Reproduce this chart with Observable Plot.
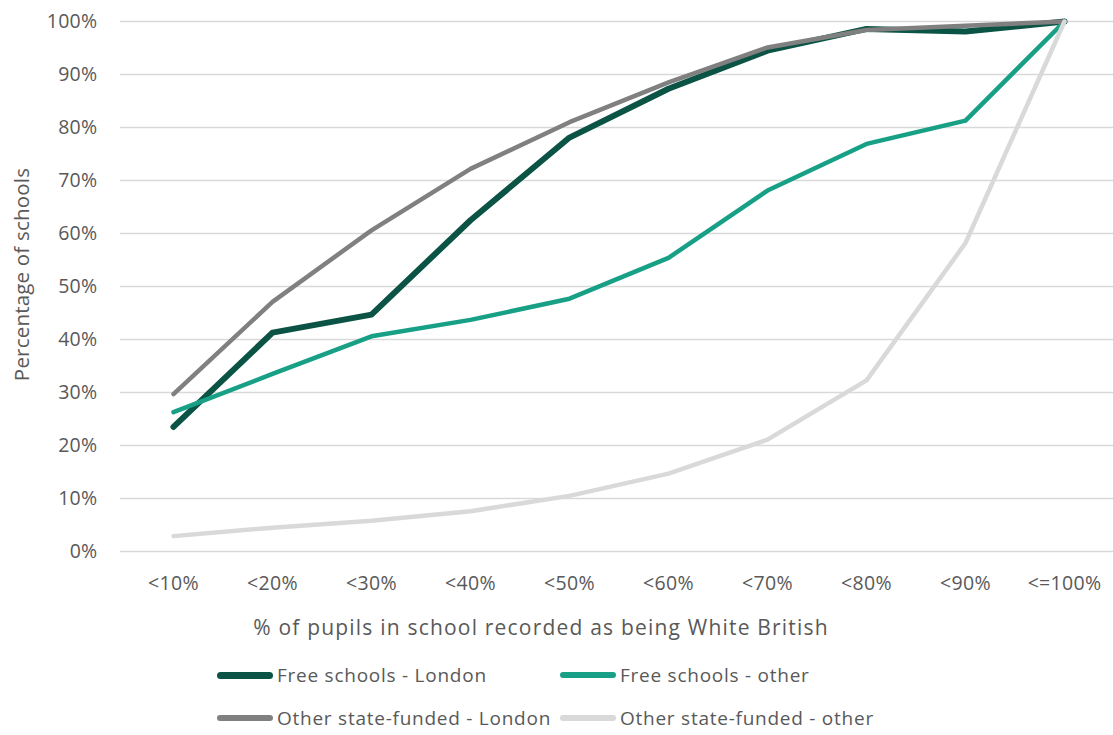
<!DOCTYPE html>
<html>
<head>
<meta charset="utf-8">
<script src="https://cdn.jsdelivr.net/npm/d3@7"></script>
<script src="https://cdn.jsdelivr.net/npm/@observablehq/plot@0.6"></script>
<style>
  html, body { margin: 0; padding: 0; background: #fff; }
  body { width: 1113px; height: 735px; overflow: hidden; font-family: "Open Sans", sans-serif; color: #595959; }
  #chart svg { display: block; }
  #legend { position: absolute; left: 0; top: 0; width: 1113px; }
  .item { position: absolute; display: flex; align-items: center; font-size: 19px; letter-spacing: 0.75px; color: #595959; white-space: nowrap; transform: translateY(-50%); }
  .sw { width: 56px; border-radius: 4px; margin-right: 4px; }
</style>
</head>
<body>
<div id="chart"></div>
<div id="legend"></div>
<script>
const categories = ["<10%", "<20%", "<30%", "<40%", "<50%", "<60%", "<70%", "<80%", "<90%", "<=100%"];
const freeLondon  = [23.5, 41.3, 44.7, 62.5, 78.1, 87.3, 94.5, 98.6, 98.1, 100];
const freeOther   = [26.3, 33.5, 40.6, 43.7, 47.7, 55.4, 68.1, 76.9, 81.3, 100];
const otherLondon = [29.7, 47.1, 60.6, 72.2, 81.0, 88.5, 95.1, 98.4, 99.2, 100];
const otherOther  = [2.9, 4.5, 5.8, 7.6, 10.5, 14.7, 21.1, 32.3, 58.2, 100];
const yTicks = [0, 10, 20, 30, 40, 50, 60, 70, 80, 90, 100];
const xTitle = "% of pupils in school recorded as being White British";
const yTitle = "Percentage of schools";
const seriesNames = ["Free schools - London", "Free schools - other", "Other state-funded - London", "Other state-funded - other"];
const seriesColors = ["#0b5345", "#17a086", "#808080", "#d9d9d9"];
const seriesWidths = [6, 4.5, 4.5, 4.5];
const seriesValues = [freeLondon, freeOther, otherLondon, otherOther];

const rows = [];
seriesNames.forEach((name, s) => {
  categories.forEach((c, i) => rows.push({series: name, category: c, value: seriesValues[s][i]}));
});

const lineMarks = seriesNames.map((name, s) =>
  Plot.line(rows.filter(d => d.series === name), {
    x: "category", y: "value",
    stroke: seriesColors[s], strokeWidth: seriesWidths[s],
    strokeLinecap: "round", strokeLinejoin: "round"
  })
);

const chart = Plot.plot({
  width: 1113,
  height: 645,
  marginTop: 21,
  marginBottom: 94,
  marginLeft: 120,
  marginRight: 0,
  style: {fontFamily: "'Open Sans', sans-serif", color: "#595959", background: "#fff"},
  x: {type: "point", domain: categories, padding: 0.5, range: [120, 1116]},
  y: {domain: [0, 100]},
  marks: [
    Plot.ruleY(yTicks, {stroke: "#d9d9d9", strokeWidth: 1.5}),
    Plot.axisY({
      ticks: yTicks, tickSize: 0, tickPadding: 23,
      tickFormat: d => d + "%", fontSize: 19.5, label: null
    }),
    Plot.axisX({
      tickSize: 0, tickPadding: 25, fontSize: 19.5, label: null
    }),
    Plot.text([yTitle], {
      text: d => d, frameAnchor: "left", rotate: -90, dx: -98.5, dy: -12,
      textAnchor: "middle", lineAnchor: "middle", fontSize: 20.5, fill: "#595959"
    }),
    Plot.text([xTitle], {
      text: d => d, frameAnchor: "bottom", dx: -76, dy: 77,
      textAnchor: "middle", lineAnchor: "middle", fontSize: 21, fill: "#595959"
    }),
    ...lineMarks
  ]
});
chart.querySelectorAll("[aria-label='y-axis tick label'] text, [aria-label='x-axis tick label'] text").forEach(t => t.setAttribute("letter-spacing", "0.3"));
const textGroups = chart.querySelectorAll("g[aria-label='text']");
if (textGroups[0]) textGroups[0].setAttribute("letter-spacing", "0.2");
if (textGroups[1]) textGroups[1].setAttribute("letter-spacing", "1.2");
document.getElementById("chart").appendChild(chart);

const legend = document.getElementById("legend");
const legendPos = [[217, 675], [560, 675], [217, 718], [560, 718]];
seriesNames.forEach((name, s) => {
  const item = document.createElement("div");
  item.className = "item";
  item.style.left = legendPos[s][0] + "px";
  item.style.top = legendPos[s][1] + "px";
  const sw = document.createElement("span");
  sw.className = "sw";
  sw.style.background = seriesColors[s];
  sw.style.height = (seriesWidths[s] + 1) + "px";
  item.appendChild(sw);
  const label = document.createElement("span");
  label.textContent = name;
  item.appendChild(label);
  legend.appendChild(item);
});
</script>
</body>
</html>
